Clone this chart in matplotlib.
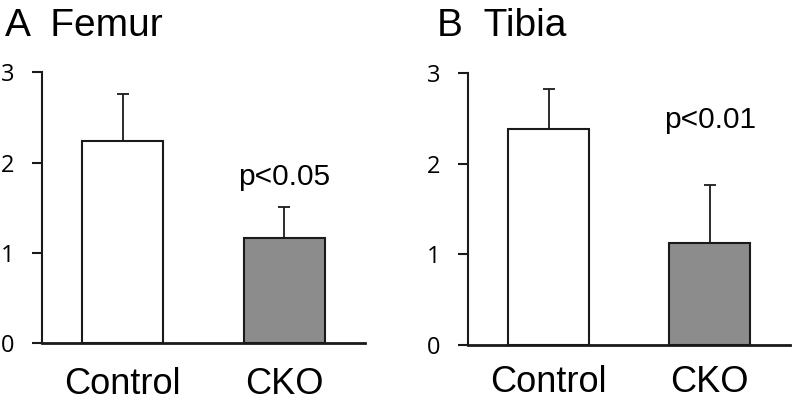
import matplotlib
matplotlib.use("Agg")
import matplotlib.pyplot as plt

# ── Data ────────────────────────────────────────────────────────────────
groups = ["Control", "CKO"]
femur_mean = [2.24, 1.16]
femur_err = [0.52, 0.35]
tibia_mean = [2.38, 1.12]
tibia_err = [0.44, 0.64]
yticks = [0, 1, 2, 3]
panels = [
    ("A  Femur", femur_mean, femur_err, "p<0.05", 1.84),
    ("B  Tibia", tibia_mean, tibia_err, "p<0.01", 2.48),
]

LINE = "#1a1a1a"
GRAY = "#8c8c8c"
plt.rcParams["font.family"] = ["Liberation Sans", "DejaVu Sans"]

fig = plt.figure(figsize=(8.04, 4.05), dpi=100)
rects = [[0.052, 0.153, 0.402, 0.668], [0.582, 0.148, 0.401, 0.672]]
title_x = [0.006, 0.543]
xlab_pad = [17, 14]

for i, (title, mean, err, ptxt, py) in enumerate(panels):
    ax = fig.add_axes(rects[i])
    xs = range(len(groups))
    ax.bar(xs, mean, width=0.5, color=["white", GRAY], edgecolor=LINE,
           linewidth=1.5, zorder=2)
    ax.errorbar(xs, mean, yerr=[[0] * len(err), err], fmt="none",
                ecolor=LINE, elinewidth=1.3, capsize=4, capthick=1.3, zorder=1)
    ax.set_xlim(-0.5, 1.5)
    ax.set_ylim(0, 3)
    ax.set_yticks(yticks)
    ax.set_yticklabels([str(t) for t in yticks], family="Open Sans", fontsize=17)
    ax.set_xticks(list(xs))
    ax.set_xticklabels(groups, fontsize=26)
    ax.tick_params(axis="x", length=0, pad=xlab_pad[i])
    ax.tick_params(axis="y", length=7, width=1.5, color=LINE, pad=13, direction="out")
    for s in ["top", "right"]:
        ax.spines[s].set_visible(False)
    ax.spines["left"].set_linewidth(1.5)
    ax.spines["bottom"].set_linewidth(2)
    ax.spines["left"].set_color(LINE)
    ax.spines["bottom"].set_color(LINE)
    ax.text(1, py, ptxt, ha="center", va="center", fontsize=21.5)
    fig.text(title_x[i], 0.935, title, ha="left", va="center", fontsize=28)

fig.savefig("out.png", dpi=100, facecolor="white")
